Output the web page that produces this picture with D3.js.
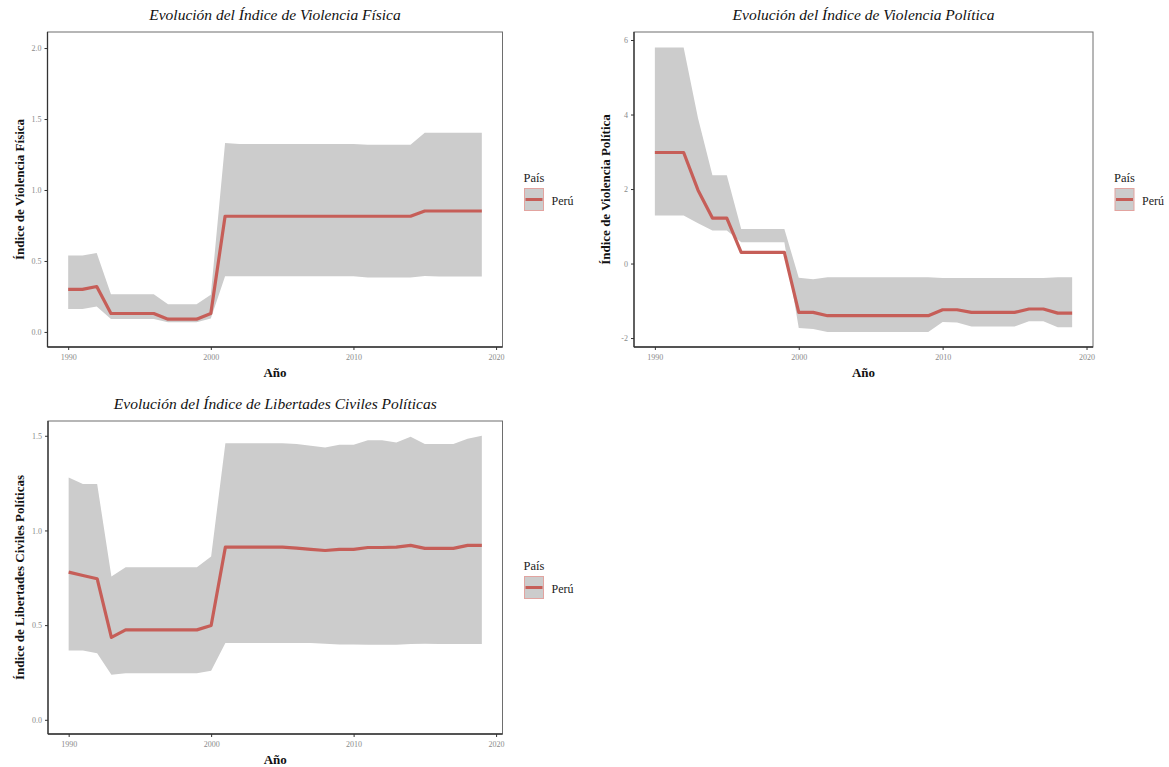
<!DOCTYPE html>
<html><head><meta charset="utf-8">
<script src="https://cdn.jsdelivr.net/npm/d3@7/dist/d3.min.js"></script>
<style>body{margin:0;background:#fff}svg{display:block}</style>
</head><body>
<svg id="c" width="1169" height="767"></svg>
<script>
// ---------- DATA ----------
const years = [1990,1991,1992,1993,1994,1995,1996,1997,1998,1999,2000,2001,2002,2003,2004,2005,2006,2007,2008,2009,2010,2011,2012,2013,2014,2015,2016,2017,2018,2019];
const xTickValues = [1990,2000,2010,2020];

const fisicaMean  = [0.30,0.30,0.32,0.13,0.13,0.13,0.13,0.09,0.09,0.09,0.13,0.815,0.815,0.815,0.815,0.815,0.815,0.815,0.815,0.815,0.815,0.815,0.815,0.815,0.815,0.852,0.852,0.852,0.852,0.852];
const fisicaUpper = [0.538,0.538,0.556,0.265,0.265,0.265,0.265,0.195,0.195,0.195,0.262,1.331,1.324,1.324,1.324,1.324,1.324,1.324,1.324,1.324,1.324,1.319,1.319,1.319,1.319,1.404,1.404,1.404,1.404,1.404];
const fisicaLower = [0.162,0.162,0.18,0.092,0.092,0.092,0.092,0.068,0.068,0.068,0.095,0.392,0.392,0.392,0.392,0.392,0.392,0.392,0.392,0.392,0.392,0.383,0.383,0.383,0.383,0.394,0.39,0.39,0.39,0.39];
const fisicaTicks = [0,0.5,1,1.5,2];

const politicaMean  = [2.98,2.98,2.98,1.97,1.22,1.22,0.30,0.30,0.30,0.30,-1.31,-1.31,-1.40,-1.40,-1.40,-1.40,-1.40,-1.40,-1.40,-1.40,-1.24,-1.24,-1.31,-1.31,-1.31,-1.31,-1.22,-1.22,-1.33,-1.33];
const politicaUpper = [5.80,5.80,5.80,3.90,2.37,2.37,0.93,0.93,0.93,0.93,-0.38,-0.42,-0.37,-0.37,-0.37,-0.37,-0.37,-0.37,-0.37,-0.37,-0.39,-0.39,-0.39,-0.39,-0.39,-0.39,-0.39,-0.39,-0.37,-0.37];
const politicaLower = [1.29,1.29,1.29,1.08,0.89,0.89,0.57,0.57,0.57,0.57,-1.73,-1.76,-1.84,-1.84,-1.84,-1.84,-1.84,-1.84,-1.84,-1.84,-1.57,-1.58,-1.69,-1.69,-1.69,-1.69,-1.55,-1.55,-1.71,-1.71];
const politicaTicks = [-2,0,2,4,6];

const libertadesMean  = [0.78,0.762,0.745,0.435,0.475,0.475,0.475,0.475,0.475,0.475,0.498,0.912,0.912,0.912,0.912,0.912,0.907,0.90,0.894,0.90,0.90,0.91,0.91,0.912,0.921,0.905,0.905,0.905,0.921,0.921];
const libertadesUpper = [1.28,1.245,1.245,0.757,0.805,0.805,0.805,0.805,0.805,0.805,0.863,1.461,1.461,1.461,1.461,1.461,1.456,1.447,1.438,1.452,1.452,1.477,1.477,1.465,1.495,1.456,1.456,1.456,1.484,1.50];
const libertadesLower = [0.366,0.366,0.352,0.238,0.246,0.246,0.246,0.246,0.246,0.246,0.259,0.405,0.405,0.405,0.405,0.405,0.405,0.405,0.401,0.398,0.398,0.396,0.396,0.396,0.40,0.401,0.40,0.40,0.40,0.40];
const libertadesTicks = [0,0.5,1,1.5];

const legendTitle = "País";
const seriesName = "Perú";
const xTitle = "Año";

// ---------- LAYOUT ----------
const svg = d3.select("#c");
const serif = "'Liberation Serif','Times New Roman',serif";
const lineColor = "#c65e58";
const ribbonColor = "#cccccc";

const panels = [
  {title:"Evolución del Índice de Violencia Física", ytitle:"Índice de Violencia Física",
   mean:fisicaMean, upper:fisicaUpper, lower:fisicaLower, ticks:fisicaTicks, fmt:d3.format(".1f"),
   x0:47.5, x1:502.5, y0:32, y1:347, ydom:[-0.106,2.113], titleY:20},
  {title:"Evolución del Índice de Violencia Política", ytitle:"Índice de Violencia Política",
   mean:politicaMean, upper:politicaUpper, lower:politicaLower, ticks:politicaTicks, fmt:d=>String(d),
   x0:634, x1:1093, y0:32, y1:347, ydom:[-2.24,6.215], titleY:20},
  {title:"Evolución del Índice de Libertades Civiles Políticas", ytitle:"Índice de Libertades Civiles Políticas",
   mean:libertadesMean, upper:libertadesUpper, lower:libertadesLower, ticks:libertadesTicks, fmt:d3.format(".1f"),
   x0:48, x1:502.5, y0:421, y1:734, ydom:[-0.075,1.578], titleY:409}
];

panels.forEach(p => {
  const g = svg.append("g");
  const x = d3.scaleLinear().domain([1988.55, 2020.45]).range([p.x0, p.x1]);
  const y = d3.scaleLinear().domain(p.ydom).range([p.y1, p.y0]);
  const rows = years.map((yr,i)=>({yr, m:p.mean[i], u:p.upper[i], l:p.lower[i]}));

  // ribbon
  g.append("path").datum(rows)
    .attr("d", d3.area().x(d=>x(d.yr)).y0(d=>y(d.l)).y1(d=>y(d.u)))
    .attr("fill", ribbonColor);
  // line
  g.append("path").datum(rows)
    .attr("d", d3.line().x(d=>x(d.yr)).y(d=>y(d.m)))
    .attr("fill","none").attr("stroke",lineColor).attr("stroke-width",3.2)
    .attr("stroke-linejoin","round");

  // border
  g.append("rect").attr("x",p.x0).attr("y",p.y0).attr("width",p.x1-p.x0).attr("height",p.y1-p.y0)
    .attr("fill","none").attr("stroke","#6e6e6e").attr("stroke-width",1);

  // axes
  const ax = g.append("g").attr("transform",`translate(0,${p.y1})`)
    .call(d3.axisBottom(x).tickValues(xTickValues).tickFormat(d=>String(d)).tickSize(3).tickSizeOuter(0).tickPadding(4));
  const ay = g.append("g").attr("transform",`translate(${p.x0},0)`)
    .call(d3.axisLeft(y).tickValues(p.ticks).tickFormat(p.fmt).tickSize(3).tickSizeOuter(0).tickPadding(3));
  [ax, ay].forEach(a => {
    a.select(".domain").attr("stroke","#333").attr("stroke-width",1.3);
    a.selectAll(".tick line").attr("stroke","#333");
    a.selectAll(".tick text").attr("fill","#8a8a8a").style("font-family",serif).style("font-size","8px");
  });
  ay.select(".domain").attr("d", `M0,${p.y0}V${p.y1}`);
  ax.select(".domain").attr("d", `M${p.x0},0H${p.x1}`);

  const cx = (p.x0 + p.x1)/2;
  // title
  g.append("text").attr("x",cx).attr("y",p.titleY).attr("text-anchor","middle")
    .style("font-family",serif).style("font-style","italic").style("font-size","15.5px").attr("fill","#111")
    .text(p.title);
  // x title
  g.append("text").attr("x",cx).attr("y",p.y1+30).attr("text-anchor","middle")
    .style("font-family",serif).style("font-weight","bold").style("font-size","13px").attr("fill","#111")
    .text(xTitle);
  // y title
  const cy = (p.y0+p.y1)/2;
  g.append("text").attr("transform",`translate(${p.x0-24},${cy}) rotate(-90)`).attr("text-anchor","middle")
    .style("font-family",serif).style("font-weight","bold").style("font-size","13px").attr("fill","#111")
    .text(p.ytitle);

  // legend
  const lx = p.x1 + 22, ly = cy - 8;
  g.append("text").attr("x",lx-1).attr("y",ly).style("font-family",serif).style("font-size","12.5px").attr("fill","#222")
    .text(legendTitle);
  g.append("rect").attr("x",lx).attr("y",ly+7).attr("width",19).attr("height",22)
    .attr("fill",ribbonColor).attr("stroke","#e2a4a0").attr("stroke-width",1);
  g.append("line").attr("x1",lx+1).attr("x2",lx+18).attr("y1",ly+18).attr("y2",ly+18)
    .attr("stroke",lineColor).attr("stroke-width",3);
  g.append("text").attr("x",lx+27).attr("y",ly+23).style("font-family",serif).style("font-size","12px").attr("fill","#222")
    .text(seriesName);
});
</script>
</body></html>
